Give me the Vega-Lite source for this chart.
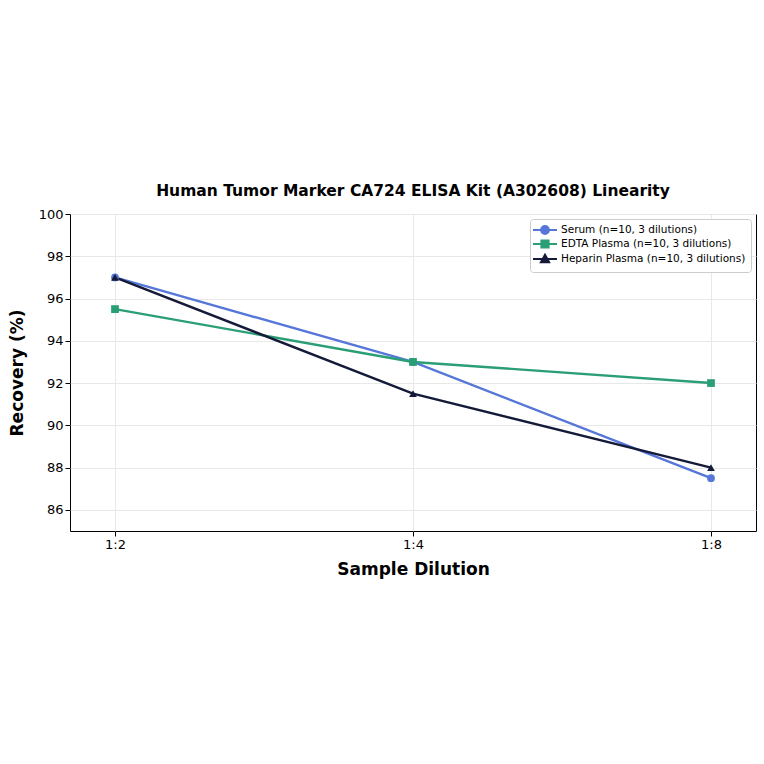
{
  "$schema": "https://vega.github.io/schema/vega-lite/v6.json",
  "autosize": "none",
  "width": 686,
  "height": 317,
  "padding": {"left": 70, "top": 214, "right": 8, "bottom": 233},
  "background": "white",
  "config": {
    "view": {"stroke": "black", "strokeWidth": 1},
    "font": "DejaVu Sans"
  },
  "title": {
    "text": "Human Tumor Marker CA724 ELISA Kit (A302608) Linearity",
    "fontSize": 15.5,
    "fontWeight": "bold",
    "offset": 9,
    "color": "black"
  },
  "data": {
    "values": [
      {"dilution": "1:2", "series": "Serum (n=10, 3 dilutions)", "recovery": 97},
      {"dilution": "1:4", "series": "Serum (n=10, 3 dilutions)", "recovery": 93},
      {"dilution": "1:8", "series": "Serum (n=10, 3 dilutions)", "recovery": 87.5},
      {"dilution": "1:2", "series": "EDTA Plasma (n=10, 3 dilutions)", "recovery": 95.5},
      {"dilution": "1:4", "series": "EDTA Plasma (n=10, 3 dilutions)", "recovery": 93},
      {"dilution": "1:8", "series": "EDTA Plasma (n=10, 3 dilutions)", "recovery": 92},
      {"dilution": "1:2", "series": "Heparin Plasma (n=10, 3 dilutions)", "recovery": 97},
      {"dilution": "1:4", "series": "Heparin Plasma (n=10, 3 dilutions)", "recovery": 91.5},
      {"dilution": "1:8", "series": "Heparin Plasma (n=10, 3 dilutions)", "recovery": 88}
    ]
  },
  "encoding": {
    "x": {
      "field": "dilution",
      "type": "ordinal",
      "scale": {"type": "point", "padding": 0.151},
      "axis": {
        "title": "Sample Dilution",
        "titleFontSize": 17,
        "titleFontWeight": "bold",
        "titleColor": "black",
        "titlePadding": 10,
        "labelAngle": 0,
        "labelFontSize": 13,
        "labelColor": "black",
        "grid": true,
        "gridColor": "#e8e8e8",
        "domain": false,
        "tickColor": "black"
      }
    },
    "y": {
      "field": "recovery",
      "type": "quantitative",
      "scale": {"domain": [85, 100], "nice": false},
      "axis": {
        "title": "Recovery (%)",
        "titleFontSize": 17,
        "titleFontWeight": "bold",
        "titleColor": "black",
        "titlePadding": 12,
        "values": [86, 88, 90, 92, 94, 96, 98, 100],
        "labelFontSize": 13,
        "labelColor": "black",
        "grid": true,
        "gridColor": "#e8e8e8",
        "domain": false,
        "tickColor": "black"
      }
    },
    "color": {
      "field": "series",
      "type": "nominal",
      "scale": {
        "domain": ["Serum (n=10, 3 dilutions)", "EDTA Plasma (n=10, 3 dilutions)", "Heparin Plasma (n=10, 3 dilutions)"],
        "range": ["#5677d9", "#2a9e74", "#141a38"]
      },
      "legend": {
        "title": null,
        "orient": "top-right",
        "offset": 5,
        "labelFontSize": 10.5,
        "labelColor": "black",
        "labelLimit": 400,
        "labelOffset": 14,
        "strokeColor": "#cccccc",
        "fillColor": "white",
        "padding": 5,
        "cornerRadius": 3,
        "symbolSize": 100,
        "symbolStrokeWidth": 2,
        "rowPadding": -2,
        "encode": {
          "symbols": {
            "update": {
              "shape": {"signal": "datum.value == 'Serum (n=10, 3 dilutions)' ? 'M-2.4,0L2.4,0M0.78,0A0.78,0.78 0 1,1 -0.78,0A0.78,0.78 0 1,1 0.78,0Z' : datum.value == 'EDTA Plasma (n=10, 3 dilutions)' ? 'M-2.4,0L2.4,0M-0.72,-0.72L0.72,-0.72L0.72,0.72L-0.72,0.72Z' : 'M-2.4,0L2.4,0M0,-0.84L0.82,0.66L-0.82,0.66Z'"},
              "fill": {"signal": "scale('color', datum.value)"},
              "fillOpacity": {"value": 1},
              "xc": {"value": 10}
            }
          }
        }
      }
    }
  },
  "layer": [
    {
      "mark": {"type": "line", "strokeWidth": 2.4}
    },
    {
      "transform": [{"filter": "datum.series == 'Serum (n=10, 3 dilutions)'"}],
      "mark": {"type": "point", "shape": "circle", "filled": true, "opacity": 1, "size": 60}
    },
    {
      "transform": [{"filter": "datum.series == 'EDTA Plasma (n=10, 3 dilutions)'"}],
      "mark": {"type": "point", "shape": "square", "filled": true, "opacity": 1, "size": 60}
    },
    {
      "transform": [{"filter": "datum.series == 'Heparin Plasma (n=10, 3 dilutions)'"}],
      "mark": {"type": "point", "shape": "triangle-up", "filled": true, "opacity": 1, "size": 60}
    }
  ]
}
